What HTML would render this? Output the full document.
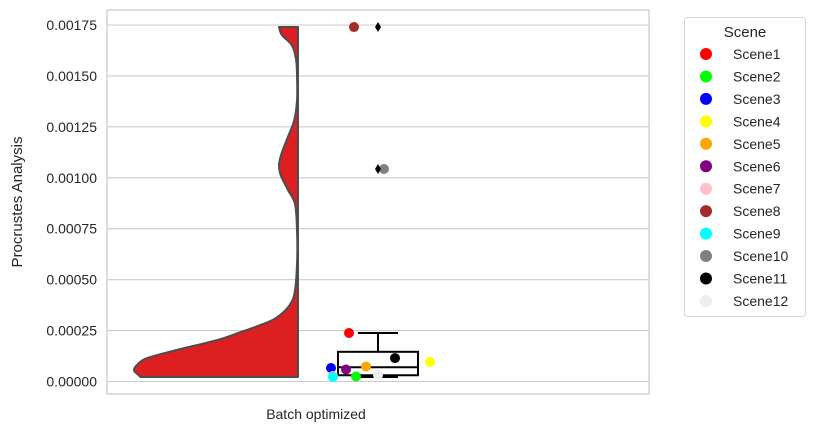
<!DOCTYPE html>
<html><head><meta charset="utf-8"><style>
html,body{margin:0;padding:0;background:#fff;}
svg{display:block;font-family:"Liberation Sans","DejaVu Sans",sans-serif;}
</style></head><body>
<svg id="chart" width="815" height="433" viewBox="0 0 815 433"></svg>
<script>
const scenes = ["Scene1","Scene2","Scene3","Scene4","Scene5","Scene6","Scene7","Scene8","Scene9","Scene10","Scene11","Scene12"];
const sceneColors = ["red","lime","blue","yellow","orange","purple","pink","brown","cyan","gray","black","#eeeeee"];
const sceneValues = [0.000238,0.0000245,0.0000663,0.0000957,0.0000736,0.0000589,0.000027,0.00174,0.0000221,0.001043,0.000115,0.0000319];
const yTicks = [0,0.00025,0.0005,0.00075,0.001,0.00125,0.0015,0.00175];
const yTickLabels = ["0.00000","0.00025","0.00050","0.00075","0.00100","0.00125","0.00150","0.00175"];
const densityValues = [0.00174,0.00170,0.00165,0.00158,0.0015,0.00138,0.00128,0.00119,0.00111,0.00106,0.00101,0.00094,0.00087,0.00074,0.0006,0.000449,0.000376,0.000312,0.000277,0.000238,0.000204,0.000155,0.000115,0.0000859,0.0000565,0.0000368,0.000022];
const densityWidths = [0.116,0.098,0.037,0.012,0.006,0.006,0.024,0.067,0.104,0.116,0.104,0.061,0.018,0.006,0.005,0.018,0.05,0.134,0.23,0.366,0.49,0.74,0.92,0.976,1.0,0.98,0.96];
const jitter = [-29,-22,-47,52,-12,-32,-45,-24,-45,6,17,0];

const svg = document.getElementById('chart');
const NS = "http://www.w3.org/2000/svg";
const L=107,R=649,T=10,B=394, y0=381.5, pxPer=50.93/0.00025;
const y = v => y0 - v*pxPer;
const violinRight = 298, violinMax = 164, boxX = 378, boxHalf = 40;
function mk(tag, attrs, parent){const e=document.createElementNS(NS,tag);for(const k in attrs)e.setAttribute(k,attrs[k]);(parent||svg).appendChild(e);return e;}

yTicks.forEach((t,i)=>{
  const g = mk('line',{x1:L,x2:R,y1:y(t),y2:y(t),stroke:'#cccccc','stroke-width':1.1});
  
  
  const tx = mk('text',{x:97,y:y(t)+5,'text-anchor':'end','font-size':14,fill:'#262626'});
  tx.textContent = yTickLabels[i];
  
  
});
const frame = mk('rect',{x:L,y:T,width:R-L,height:B-T,fill:'none',stroke:'#cccccc','stroke-width':1.3});



const pts = densityValues.map((v,i)=>[violinRight - densityWidths[i]*violinMax, y(v)]);
let d = `M${violinRight},${pts[0][1]} L${pts[0][0]},${pts[0][1]}`;
for(let i=0;i<pts.length-1;i++){
  const p0=pts[Math.max(0,i-1)],p1=pts[i],p2=pts[i+1],p3=pts[Math.min(pts.length-1,i+2)];
  const c1=[p1[0]+(p2[0]-p0[0])/6,p1[1]+(p2[1]-p0[1])/6];
  const c2=[p2[0]-(p3[0]-p1[0])/6,p2[1]-(p3[1]-p1[1])/6];
  d += ` C${c1[0]},${c1[1]} ${c2[0]},${c2[1]} ${p2[0]},${p2[1]}`;
}
d += ` L${violinRight},${pts[pts.length-1][1]} Z`;
const vio = mk('path',{d:d,fill:'#de1f22',stroke:'#4d4d4d','stroke-width':2,'stroke-linejoin':'round'});



const s = sceneValues.slice().sort((a,b)=>a-b);
function pct(p){const idx=p*(s.length-1);const lo=Math.floor(idx),hi=Math.ceil(idx);return s[lo]+(s[hi]-s[lo])*(idx-lo);}
const q1=pct(0.25),med=pct(0.5),q3=pct(0.75),iqr=q3-q1;
const inl = s.filter(v=>v>=q1-1.5*iqr && v<=q3+1.5*iqr);
const wlo=Math.min(...inl), whi=Math.max(...inl);
const bg = mk('g',{stroke:'#000','stroke-width':2,fill:'none'});


mk('rect',{x:boxX-boxHalf,y:y(q3),width:boxHalf*2,height:y(q1)-y(q3)},bg);
mk('line',{x1:boxX-boxHalf,x2:boxX+boxHalf,y1:y(med),y2:y(med)},bg);
mk('line',{x1:boxX,x2:boxX,y1:y(q3),y2:y(whi)},bg);
mk('line',{x1:boxX-20,x2:boxX+20,y1:y(whi),y2:y(whi)},bg);
mk('line',{x1:boxX,x2:boxX,y1:y(q1),y2:y(wlo)},bg);
mk('line',{x1:boxX-20,x2:boxX+20,y1:y(wlo),y2:y(wlo)},bg);

sceneValues.forEach((v,i)=>{
  const c = mk('circle',{cx:boxX+jitter[i],cy:y(v),r:5,fill:sceneColors[i]});
  
  
});
s.filter(v=>v<q1-1.5*iqr||v>q3+1.5*iqr).forEach(v=>{
  const o = mk('path',{d:`M${boxX},${y(v)-5} L${boxX+3},${y(v)} L${boxX},${y(v)+5} L${boxX-3},${y(v)} Z`,fill:'#000'});
  
  
});

const xl = mk('text',{x:316,y:419,'text-anchor':'middle','font-size':14,fill:'#262626'});
xl.textContent='Batch optimized';


const yl = mk('text',{x:22,y:202,'text-anchor':'middle','font-size':15,fill:'#262626',transform:'rotate(-90 22 202)'});
yl.textContent='Procrustes Analysis';



const lg = mk('g',{});


mk('rect',{x:684.5,y:17.5,width:121,height:299,rx:3,fill:'#fff',stroke:'#d6d6d6','stroke-width':1},lg);
const lt = mk('text',{x:745,y:37,'text-anchor':'middle','font-size':15,fill:'#262626'},lg);
lt.textContent='Scene';


scenes.forEach((n,i)=>{
  const cy = 54 + i*22.45;
  const e = mk('g',{},lg);
  
  
  mk('circle',{cx:706,cy:cy,r:6,fill:sceneColors[i]},e);
  const t = mk('text',{x:733,y:cy+5,'font-size':14,fill:'#262626'},e);
  t.textContent=n;
});
</script>
</body></html>
